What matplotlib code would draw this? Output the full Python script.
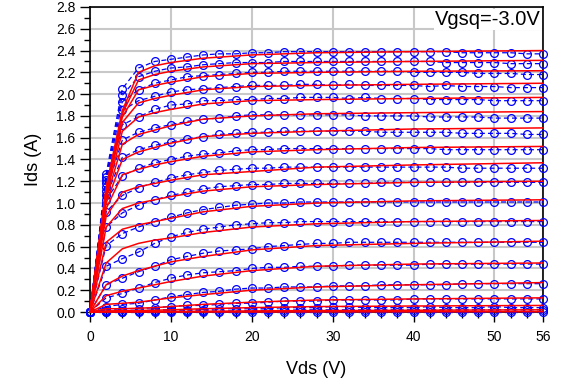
import numpy as np
import matplotlib
matplotlib.use("Agg")
import matplotlib.pyplot as plt
from matplotlib.ticker import MultipleLocator, FixedLocator

plt.rcParams['font.family'] = ['Liberation Sans', 'DejaVu Sans']

# measured Vds points (V)
vds_meas = list(range(0, 57, 2))

# measured Ids (A), one list per gate step, top curve first
meas = [
    [0, 1.27, 2.05, 2.24, 2.30, 2.32, 2.34, 2.36, 2.37, 2.37, 2.38, 2.38, 2.39, 2.39, 2.39, 2.39, 2.39, 2.39, 2.39, 2.39, 2.39, 2.39, 2.39, 2.38, 2.38, 2.38, 2.38, 2.37, 2.37],
    [0, 1.24, 1.99, 2.16, 2.21, 2.24, 2.25, 2.27, 2.28, 2.29, 2.29, 2.29, 2.30, 2.30, 2.30, 2.30, 2.30, 2.30, 2.30, 2.30, 2.30, 2.30, 2.29, 2.29, 2.29, 2.29, 2.28, 2.28, 2.28],
    [0, 1.21, 1.93, 2.04, 2.10, 2.13, 2.16, 2.17, 2.18, 2.19, 2.20, 2.20, 2.21, 2.21, 2.21, 2.21, 2.21, 2.21, 2.21, 2.21, 2.20, 2.20, 2.20, 2.20, 2.19, 2.19, 2.19, 2.18, 2.18],
    [0, 1.18, 1.85, 1.94, 1.98, 2.02, 2.04, 2.05, 2.06, 2.07, 2.08, 2.08, 2.08, 2.09, 2.09, 2.08, 2.09, 2.08, 2.08, 2.08, 2.08, 2.07, 2.08, 2.07, 2.07, 2.07, 2.06, 2.06, 2.06],
    [0, 1.15, 1.72, 1.79, 1.86, 1.90, 1.91, 1.94, 1.94, 1.95, 1.95, 1.96, 1.96, 1.97, 1.97, 1.97, 1.96, 1.97, 1.96, 1.96, 1.96, 1.95, 1.95, 1.95, 1.95, 1.94, 1.94, 1.94, 1.94],
    [0, 1.11, 1.58, 1.65, 1.69, 1.72, 1.75, 1.77, 1.78, 1.80, 1.81, 1.81, 1.81, 1.81, 1.81, 1.81, 1.81, 1.80, 1.80, 1.80, 1.80, 1.79, 1.79, 1.79, 1.79, 1.78, 1.78, 1.78, 1.78],
    [0, 1.07, 1.42, 1.49, 1.53, 1.56, 1.59, 1.61, 1.63, 1.64, 1.65, 1.65, 1.66, 1.66, 1.66, 1.66, 1.66, 1.66, 1.65, 1.65, 1.65, 1.65, 1.65, 1.64, 1.64, 1.64, 1.64, 1.63, 1.63],
    [0, 1.03, 1.25, 1.32, 1.37, 1.40, 1.43, 1.45, 1.46, 1.48, 1.49, 1.49, 1.50, 1.50, 1.50, 1.50, 1.50, 1.50, 1.50, 1.50, 1.50, 1.50, 1.49, 1.49, 1.49, 1.49, 1.49, 1.49, 1.49],
    [0, 0.92, 1.07, 1.14, 1.19, 1.23, 1.26, 1.28, 1.30, 1.31, 1.32, 1.32, 1.33, 1.33, 1.33, 1.33, 1.33, 1.33, 1.33, 1.33, 1.33, 1.33, 1.33, 1.32, 1.32, 1.32, 1.32, 1.32, 1.32],
    [0, 0.78, 0.91, 0.98, 1.03, 1.07, 1.10, 1.13, 1.15, 1.16, 1.17, 1.17, 1.18, 1.18, 1.18, 1.18, 1.18, 1.18, 1.19, 1.19, 1.19, 1.19, 1.19, 1.19, 1.19, 1.19, 1.19, 1.19, 1.19],
    [0, 0.61, 0.72, 0.78, 0.83, 0.87, 0.91, 0.94, 0.96, 0.98, 0.99, 1.00, 1.00, 1.01, 1.01, 1.01, 1.01, 1.01, 1.01, 1.01, 1.01, 1.01, 1.01, 1.01, 1.01, 1.01, 1.01, 1.01, 1.01],
    [0, 0.42, 0.49, 0.55, 0.63, 0.69, 0.73, 0.76, 0.78, 0.80, 0.81, 0.82, 0.82, 0.83, 0.83, 0.83, 0.83, 0.83, 0.83, 0.83, 0.83, 0.83, 0.83, 0.83, 0.83, 0.83, 0.83, 0.83, 0.83],
    [0, 0.25, 0.31, 0.37, 0.42, 0.48, 0.51, 0.54, 0.56, 0.57, 0.58, 0.60, 0.61, 0.62, 0.63, 0.63, 0.64, 0.64, 0.64, 0.64, 0.64, 0.64, 0.64, 0.64, 0.64, 0.64, 0.64, 0.64, 0.64],
    [0, 0.13, 0.17, 0.22, 0.27, 0.31, 0.34, 0.36, 0.37, 0.38, 0.40, 0.41, 0.41, 0.42, 0.42, 0.42, 0.43, 0.43, 0.43, 0.43, 0.43, 0.44, 0.44, 0.44, 0.44, 0.44, 0.44, 0.44, 0.44],
    [0, 0.05, 0.07, 0.08, 0.11, 0.14, 0.16, 0.18, 0.19, 0.21, 0.22, 0.22, 0.23, 0.23, 0.23, 0.24, 0.24, 0.24, 0.25, 0.25, 0.25, 0.25, 0.25, 0.26, 0.26, 0.26, 0.26, 0.26, 0.26],
    [0, 0.02, 0.03, 0.03, 0.04, 0.05, 0.06, 0.06, 0.07, 0.08, 0.08, 0.09, 0.10, 0.10, 0.10, 0.11, 0.11, 0.11, 0.11, 0.11, 0.12, 0.12, 0.12, 0.12, 0.12, 0.12, 0.12, 0.12, 0.12],
    [0, 0.01, 0.01, 0.01, 0.02, 0.02, 0.02, 0.02, 0.03, 0.03, 0.03, 0.03, 0.04, 0.04, 0.04, 0.05, 0.05, 0.04, 0.04, 0.04, 0.04, 0.05, 0.04, 0.04, 0.04, 0.05, 0.04, 0.04, 0.04],
    [0, 0, 0, 0.005, 0.005, 0.01, 0.01, 0.01, 0.01, 0.01, 0.015, 0.015, 0.015, 0.02, 0.02, 0.02, 0.02, 0.02, 0.02, 0.02, 0.02, 0.02, 0.02, 0.02, 0.02, 0.02, 0.02, 0.02, 0.02],
    [0] * 29,
]

# model Vds points (V)
vds_model = [0, 2, 4, 6, 8, 10, 14, 20, 28, 40, 56]

# model Ids (A), same order as measured
model = [
    [0, 1.15, 1.85, 2.20, 2.26, 2.29, 2.33, 2.36, 2.38, 2.39, 2.40],
    [0, 1.13, 1.82, 2.13, 2.18, 2.21, 2.25, 2.28, 2.29, 2.30, 2.31],
    [0, 1.11, 1.79, 2.04, 2.08, 2.11, 2.16, 2.19, 2.20, 2.21, 2.215],
    [0, 1.09, 1.74, 1.92, 1.96, 1.99, 2.04, 2.07, 2.08, 2.09, 2.10],
    [0, 1.07, 1.66, 1.79, 1.83, 1.86, 1.91, 1.94, 1.95, 1.96, 1.97],
    [0, 1.04, 1.54, 1.63, 1.67, 1.71, 1.77, 1.80, 1.82, 1.83, 1.84],
    [0, 1.00, 1.40, 1.47, 1.51, 1.55, 1.61, 1.64, 1.66, 1.68, 1.69],
    [0, 0.95, 1.26, 1.31, 1.35, 1.38, 1.43, 1.47, 1.49, 1.51, 1.52],
    [0, 0.88, 1.10, 1.15, 1.18, 1.21, 1.26, 1.29, 1.33, 1.35, 1.37],
    [0, 0.78, 0.95, 1.00, 1.03, 1.06, 1.11, 1.15, 1.17, 1.19, 1.20],
    [0, 0.64, 0.76, 0.80, 0.83, 0.86, 0.92, 0.97, 1.00, 1.02, 1.03],
    [0, 0.45, 0.58, 0.63, 0.66, 0.68, 0.73, 0.78, 0.81, 0.83, 0.84],
    [0, 0.25, 0.33, 0.38, 0.42, 0.46, 0.51, 0.57, 0.61, 0.63, 0.65],
    [0, 0.15, 0.19, 0.22, 0.25, 0.28, 0.33, 0.38, 0.42, 0.44, 0.45],
    [0, 0.07, 0.08, 0.09, 0.11, 0.13, 0.16, 0.20, 0.23, 0.25, 0.27],
    [0, 0.03, 0.03, 0.035, 0.04, 0.05, 0.07, 0.09, 0.11, 0.12, 0.13],
    [0, 0.01, 0.012, 0.014, 0.016, 0.02, 0.03, 0.04, 0.05, 0.055, 0.06],
    [0, 0.003, 0.004, 0.004, 0.004, 0.005, 0.007, 0.01, 0.013, 0.016, 0.02],
    [0, 0, 0, 0, 0, 0, 0, 0, 0.001, 0.002, 0.003],
]

x_ticks = [0, 10, 20, 30, 40, 50, 56]
label_text = "Vgsq=-3.0V"

fig = plt.figure(figsize=(5.64, 3.87), dpi=100)
ax = fig.add_axes([90 / 564, 1 - 312 / 387, 453 / 564, 305 / 387])

for ids in meas:
    ax.plot(vds_meas, ids, color='#0000ff', lw=0.9, ls='--', dashes=(4, 2.5),
            marker='o', ms=5.6, mfc='none', mec='#0000ff', mew=0.9,
            clip_on=False, zorder=3)
for ids in model:
    ax.plot(vds_model, ids, color='#ff0000', lw=1.1, zorder=4, clip_on=False)

ax.set_xlim(0, 56)
ax.set_ylim(0, 2.8)
ax.xaxis.set_major_locator(FixedLocator(x_ticks))
ax.xaxis.set_minor_locator(MultipleLocator(2))
ax.yaxis.set_major_locator(MultipleLocator(0.2))
ax.yaxis.set_minor_locator(MultipleLocator(0.1))
ax.yaxis.set_major_formatter(matplotlib.ticker.FormatStrFormatter('%.1f'))
ax.tick_params(which='major', direction='out', length=7, width=1, labelsize=10)
ax.tick_params(axis='x', which='major', pad=6)
ax.tick_params(which='minor', direction='out', length=4, width=1)
ax.grid(True, which='major', color='#c8c8c8', lw=1.5, zorder=0)
ax.set_axisbelow(True)
for s in ax.spines.values():
    s.set_linewidth(1.2)

ax.set_xlabel("Vds (V)", fontsize=13, labelpad=12)
ax.set_ylabel("Ids (A)", fontsize=13, labelpad=10)
ax.text(0.995, 0.99, label_text, transform=ax.transAxes, ha='right', va='top',
        fontsize=14.5, zorder=6,
        bbox=dict(facecolor='white', edgecolor='none', pad=1))

fig.savefig("out.png", dpi=100)
